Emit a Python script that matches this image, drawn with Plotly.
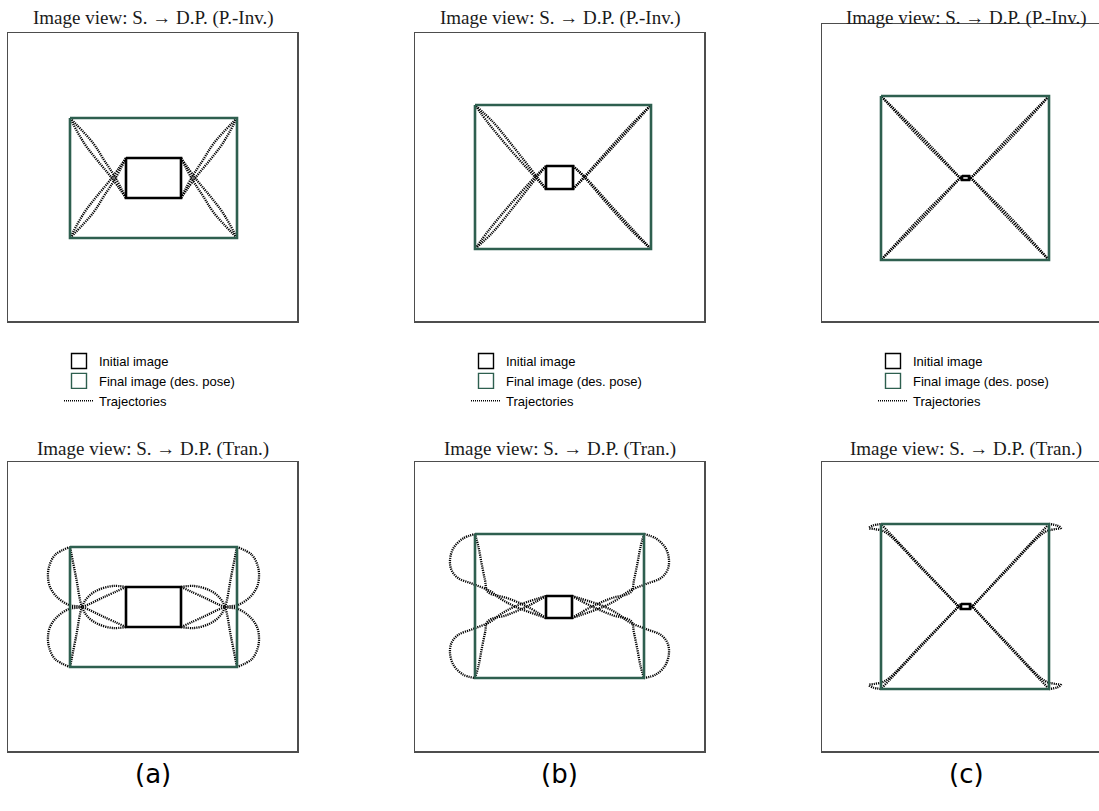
import plotly.graph_objects as go

W, H = 1099, 811

# ---------------- text ----------------
TITLE_TOP = "Image view: S. \u2192 D.P. (P.-Inv.)"
TITLE_BOT = "Image view: S. \u2192 D.P. (Tran.)"
PANEL_LABELS = ["(a)", "(b)", "(c)"]
LEGEND_NAMES = ["Initial image", "Final image (des. pose)", "Trajectories"]

# ---------------- data: image-plane coords (px, origin top-left of each view, y down) ----
# rectangles given as [x0, x1, y0, y1]
FINAL_A = [62, 229, 85, 205]
FINAL_B_TOP = [60, 236, 72, 216]
FINAL_B_BOT = [60, 229, 72, 216]
FINAL_C_TOP = [59, 227, 72, 236]
FINAL_C_BOT = [59, 227, 62, 227]

INIT_A_TOP = [118, 173, 125, 165]
INIT_B_TOP = [131, 158, 133, 156]
INIT_C_TOP = [140, 147, 152, 156]
INIT_A_BOT = [118, 173, 125, 165]
INIT_B_BOT = [131, 157, 134, 156]
INIT_C_BOT = [139, 148, 142, 147]

# trajectories: (x points, y points), from initial corner to final corner
TRAJ_A_TOP = [
    ([118, 103, 89, 76, 62], [165, 144, 127, 110, 85]),
    ([118, 107, 96, 85, 62], [165, 144, 127, 110, 85]),
    ([118, 103, 89, 76, 62], [125, 146, 163, 180, 205]),
    ([118, 107, 96, 85, 62], [125, 146, 163, 180, 205]),
    ([173, 188, 202, 215, 229], [165, 144, 127, 110, 85]),
    ([173, 184, 195, 206, 229], [165, 144, 127, 110, 85]),
    ([173, 188, 202, 215, 229], [125, 146, 163, 180, 205]),
    ([173, 184, 195, 206, 229], [125, 146, 163, 180, 205]),
]

TRAJ_B_TOP = [
    ([131, 120, 93, 74, 60], [156, 144, 114, 91, 72]),
    ([131, 122, 97, 78, 60], [156, 144, 112, 89, 72]),
    ([131, 120, 93, 74, 60], [133, 144, 174, 197, 216]),
    ([131, 122, 97, 78, 60], [133, 144, 176, 199, 216]),
    ([158, 169, 195, 216, 236], [156, 144, 115, 92, 72]),
    ([158, 170, 199, 220, 236], [156, 144, 113, 90, 72]),
    ([158, 169, 195, 216, 236], [133, 144, 174, 197, 216]),
    ([158, 170, 199, 220, 236], [133, 144, 176, 199, 216]),
]

TRAJ_C_TOP = [
    ([140, 100, 59], [156, 113, 72]),
    ([140, 99, 59], [156, 115, 72]),
    ([140, 100, 59], [152, 195, 236]),
    ([140, 99, 59], [152, 193, 236]),
    ([147, 187, 227], [156, 113, 72]),
    ([147, 188, 227], [156, 115, 72]),
    ([147, 187, 227], [152, 195, 236]),
    ([147, 188, 227], [152, 193, 236]),
]

TRAJ_A_BOT = [
    ([118, 96, 74, 61, 49, 42, 40, 41, 47, 62], [125, 135, 145, 147, 155, 165, 175, 185, 197, 205]),
    ([118, 105, 90, 80, 74, 68, 62], [125, 124, 128, 135, 145, 175, 205]),
    ([118, 96, 74, 61, 49, 42, 40, 41, 47, 62], [165, 155, 145, 143, 135, 125, 115, 105, 93, 85]),
    ([118, 105, 90, 80, 74, 68, 62], [165, 166, 162, 155, 145, 115, 85]),
    ([173, 195, 217, 230, 242, 249, 251, 250, 244, 229], [125, 135, 145, 147, 155, 165, 175, 185, 197, 205]),
    ([173, 186, 201, 211, 217, 223, 229], [125, 124, 128, 135, 145, 175, 205]),
    ([173, 195, 217, 230, 242, 249, 251, 250, 244, 229], [165, 155, 145, 143, 135, 125, 115, 105, 93, 85]),
    ([173, 186, 201, 211, 217, 223, 229], [165, 166, 162, 155, 145, 115, 85]),
]

TRAJ_B_BOT = [
    ([131, 100, 86, 75, 58, 43, 36.5, 35, 38.5, 48, 60], [156, 144.5, 137, 129, 122, 116, 108, 98, 86, 76.5, 72]),
    ([131, 112, 92, 73, 70, 66.5, 63.5, 60], [156, 144.5, 136, 130, 118, 101, 85, 72]),
    ([131, 100, 86, 75, 58, 43, 36.5, 35, 38.5, 48, 60], [134, 144.5, 152, 160, 167, 173, 181, 191, 203, 212.5, 216]),
    ([131, 112, 92, 73, 70, 66.5, 63.5, 60], [134, 144.5, 153, 159, 171, 188, 204, 216]),
    ([157, 189, 203, 214, 231, 246, 252.5, 254, 250.5, 241, 229], [156, 144.5, 137, 129, 122, 116, 108, 98, 86, 76.5, 72]),
    ([157, 177, 197, 216, 219, 222.5, 225.5, 229], [156, 144.5, 136, 130, 118, 101, 85, 72]),
    ([157, 189, 203, 214, 231, 246, 252.5, 254, 250.5, 241, 229], [134, 144.5, 152, 160, 167, 173, 181, 191, 203, 212.5, 216]),
    ([157, 177, 197, 216, 219, 222.5, 225.5, 229], [134, 144.5, 153, 159, 171, 188, 204, 216]),
]

TRAJ_C_BOT = [
    ([139, 99, 59], [147, 104.5, 62]),
    ([139, 101, 63, 52, 47, 51, 59], [147, 108, 70, 67, 66, 63.5, 62]),
    ([139, 99, 59], [142, 184.5, 227]),
    ([139, 101, 63, 52, 47, 51, 59], [142, 181, 219, 222, 223, 225.5, 227]),
    ([148, 187, 227], [147, 104.5, 62]),
    ([148, 185, 223, 234, 239, 235, 227], [147, 108, 70, 67, 66, 63.5, 62]),
    ([148, 187, 227], [142, 184.5, 227]),
    ([148, 185, 223, 234, 239, 235, 227], [142, 181, 219, 222, 223, 225.5, 227]),
]

# ---------------- styles ----------------
GREEN = "#2e5f4f"
FRAME = "#4d4d4d"
DOT = "1.2px,1px"

# view boxes on the page (left, top, width, height) and whether the right frame edge is visible
VIEWS = [
    ((8, 33, 289, 288), FINAL_A, INIT_A_TOP, TRAJ_A_TOP, True),
    ((415, 33, 289, 288), FINAL_B_TOP, INIT_B_TOP, TRAJ_B_TOP, True),
    ((822, 24, 277, 297), FINAL_C_TOP, INIT_C_TOP, TRAJ_C_TOP, False),
    ((8, 462, 289, 289), FINAL_A, INIT_A_BOT, TRAJ_A_BOT, True),
    ((415, 462, 289, 289), FINAL_B_BOT, INIT_B_BOT, TRAJ_B_BOT, True),
    ((822, 462, 277, 289), FINAL_C_BOT, INIT_C_BOT, TRAJ_C_BOT, False),
]


def rect_xy(r):
    x0, x1, y0, y1 = r
    return [x0, x1, x1, x0, x0], [y0, y0, y1, y1, y0]


fig = go.Figure()
layout = {}
for k, (box, fin, ini, trajs, right) in enumerate(VIEWS, start=1):
    l, t, w, h = box
    sx = "" if k == 1 else str(k)
    xref, yref = "x" + sx, "y" + sx
    layout["xaxis" + sx] = dict(
        domain=[l / W, min(1.0, (l + w) / W)], range=[0, w], anchor=yref,
        showline=True, mirror=True, linecolor=FRAME, linewidth=1.5,
        showgrid=False, zeroline=False, showticklabels=False, ticks="", fixedrange=True,
    )
    layout["yaxis" + sx] = dict(
        domain=[1 - (t + h) / H, 1 - t / H], range=[h, 0], anchor=xref,
        showline=True, mirror=right, linecolor=FRAME, linewidth=1.5,
        showgrid=False, zeroline=False, showticklabels=False, ticks="", fixedrange=True,
    )
    for tx, ty in trajs:
        fig.add_trace(go.Scatter(
            x=tx, y=ty, mode="lines", xaxis=xref, yaxis=yref, showlegend=False,
            line=dict(color="black", width=2.3, dash=DOT, shape="spline", smoothing=1.0),
            hoverinfo="skip",
        ))
    gx, gy = rect_xy(fin)
    fig.add_trace(go.Scatter(x=gx, y=gy, mode="lines", xaxis=xref, yaxis=yref, showlegend=False,
                             line=dict(color=GREEN, width=2.6), hoverinfo="skip"))
    bx, by = rect_xy(ini)
    fig.add_trace(go.Scatter(x=bx, y=by, mode="lines", xaxis=xref, yaxis=yref, showlegend=False,
                             line=dict(color="black", width=2.6), hoverinfo="skip"))

# legends under each top view
LEGEND_FONT = dict(family="Liberation Sans, Arial, Helvetica, sans-serif", size=13, color="black")
for k in (1, 2, 3):
    sx = "" if k == 1 else str(k)
    lg = "legend" + sx
    xref, yref = "x" + sx, "y" + sx
    fig.add_trace(go.Scatter(
        x=[None], y=[None], mode="markers", name=LEGEND_NAMES[0], legend=lg, xaxis=xref, yaxis=yref,
        marker=dict(symbol="square-open", size=15, color="black", line=dict(width=1.4)),
    ))
    fig.add_trace(go.Scatter(
        x=[None], y=[None], mode="markers", name=LEGEND_NAMES[1], legend=lg, xaxis=xref, yaxis=yref,
        marker=dict(symbol="square-open", size=15, color=GREEN, line=dict(width=1.4)),
    ))
    fig.add_trace(go.Scatter(
        x=[None], y=[None], mode="lines", name=LEGEND_NAMES[2], legend=lg, xaxis=xref, yaxis=yref,
        line=dict(color="black", width=1.5, dash="1px,1px"),
    ))
    left = VIEWS[k - 1][0][0]
    layout[lg] = dict(
        x=(left + 51) / W, y=1 - 346 / H, xanchor="left", yanchor="top",
        bgcolor="rgba(0,0,0,0)", borderwidth=0, font=LEGEND_FONT,
        itemclick=False, itemdoubleclick=False, tracegroupgap=0, itemwidth=30,
    )

annotations = []
for k, (box, _, _, _, _) in enumerate(VIEWS):
    l, t, w, h = box
    cx = l + 144.5
    title = TITLE_TOP if k < 3 else TITLE_BOT
    ty = 17.5 if k < 3 else 448.5
    annotations.append(dict(
        text=title, xref="paper", yref="paper", x=cx / W, y=1 - ty / H,
        xanchor="center", yanchor="middle", showarrow=False,
        font=dict(family="Liberation Serif, Times New Roman, serif", size=19, color="#1a1a1a"),
    ))
for k in range(3):
    cx = VIEWS[k][0][0] + 144.5
    annotations.append(dict(
        text=PANEL_LABELS[k], xref="paper", yref="paper", x=cx / W, y=1 - 774 / H,
        xanchor="center", yanchor="middle", showarrow=False,
        font=dict(family="DejaVu Sans, sans-serif", size=26, color="black"),
    ))

fig.update_layout(
    width=W, height=H, margin=dict(l=0, r=0, t=0, b=0),
    paper_bgcolor="white", plot_bgcolor="white",
    showlegend=True, annotations=annotations, **layout,
)

fig.write_html(
    "out.html",
    config={"displayModeBar": False, "staticPlot": True},
    post_script="document.body.style.margin='0';document.body.style.overflow='hidden';",
)
